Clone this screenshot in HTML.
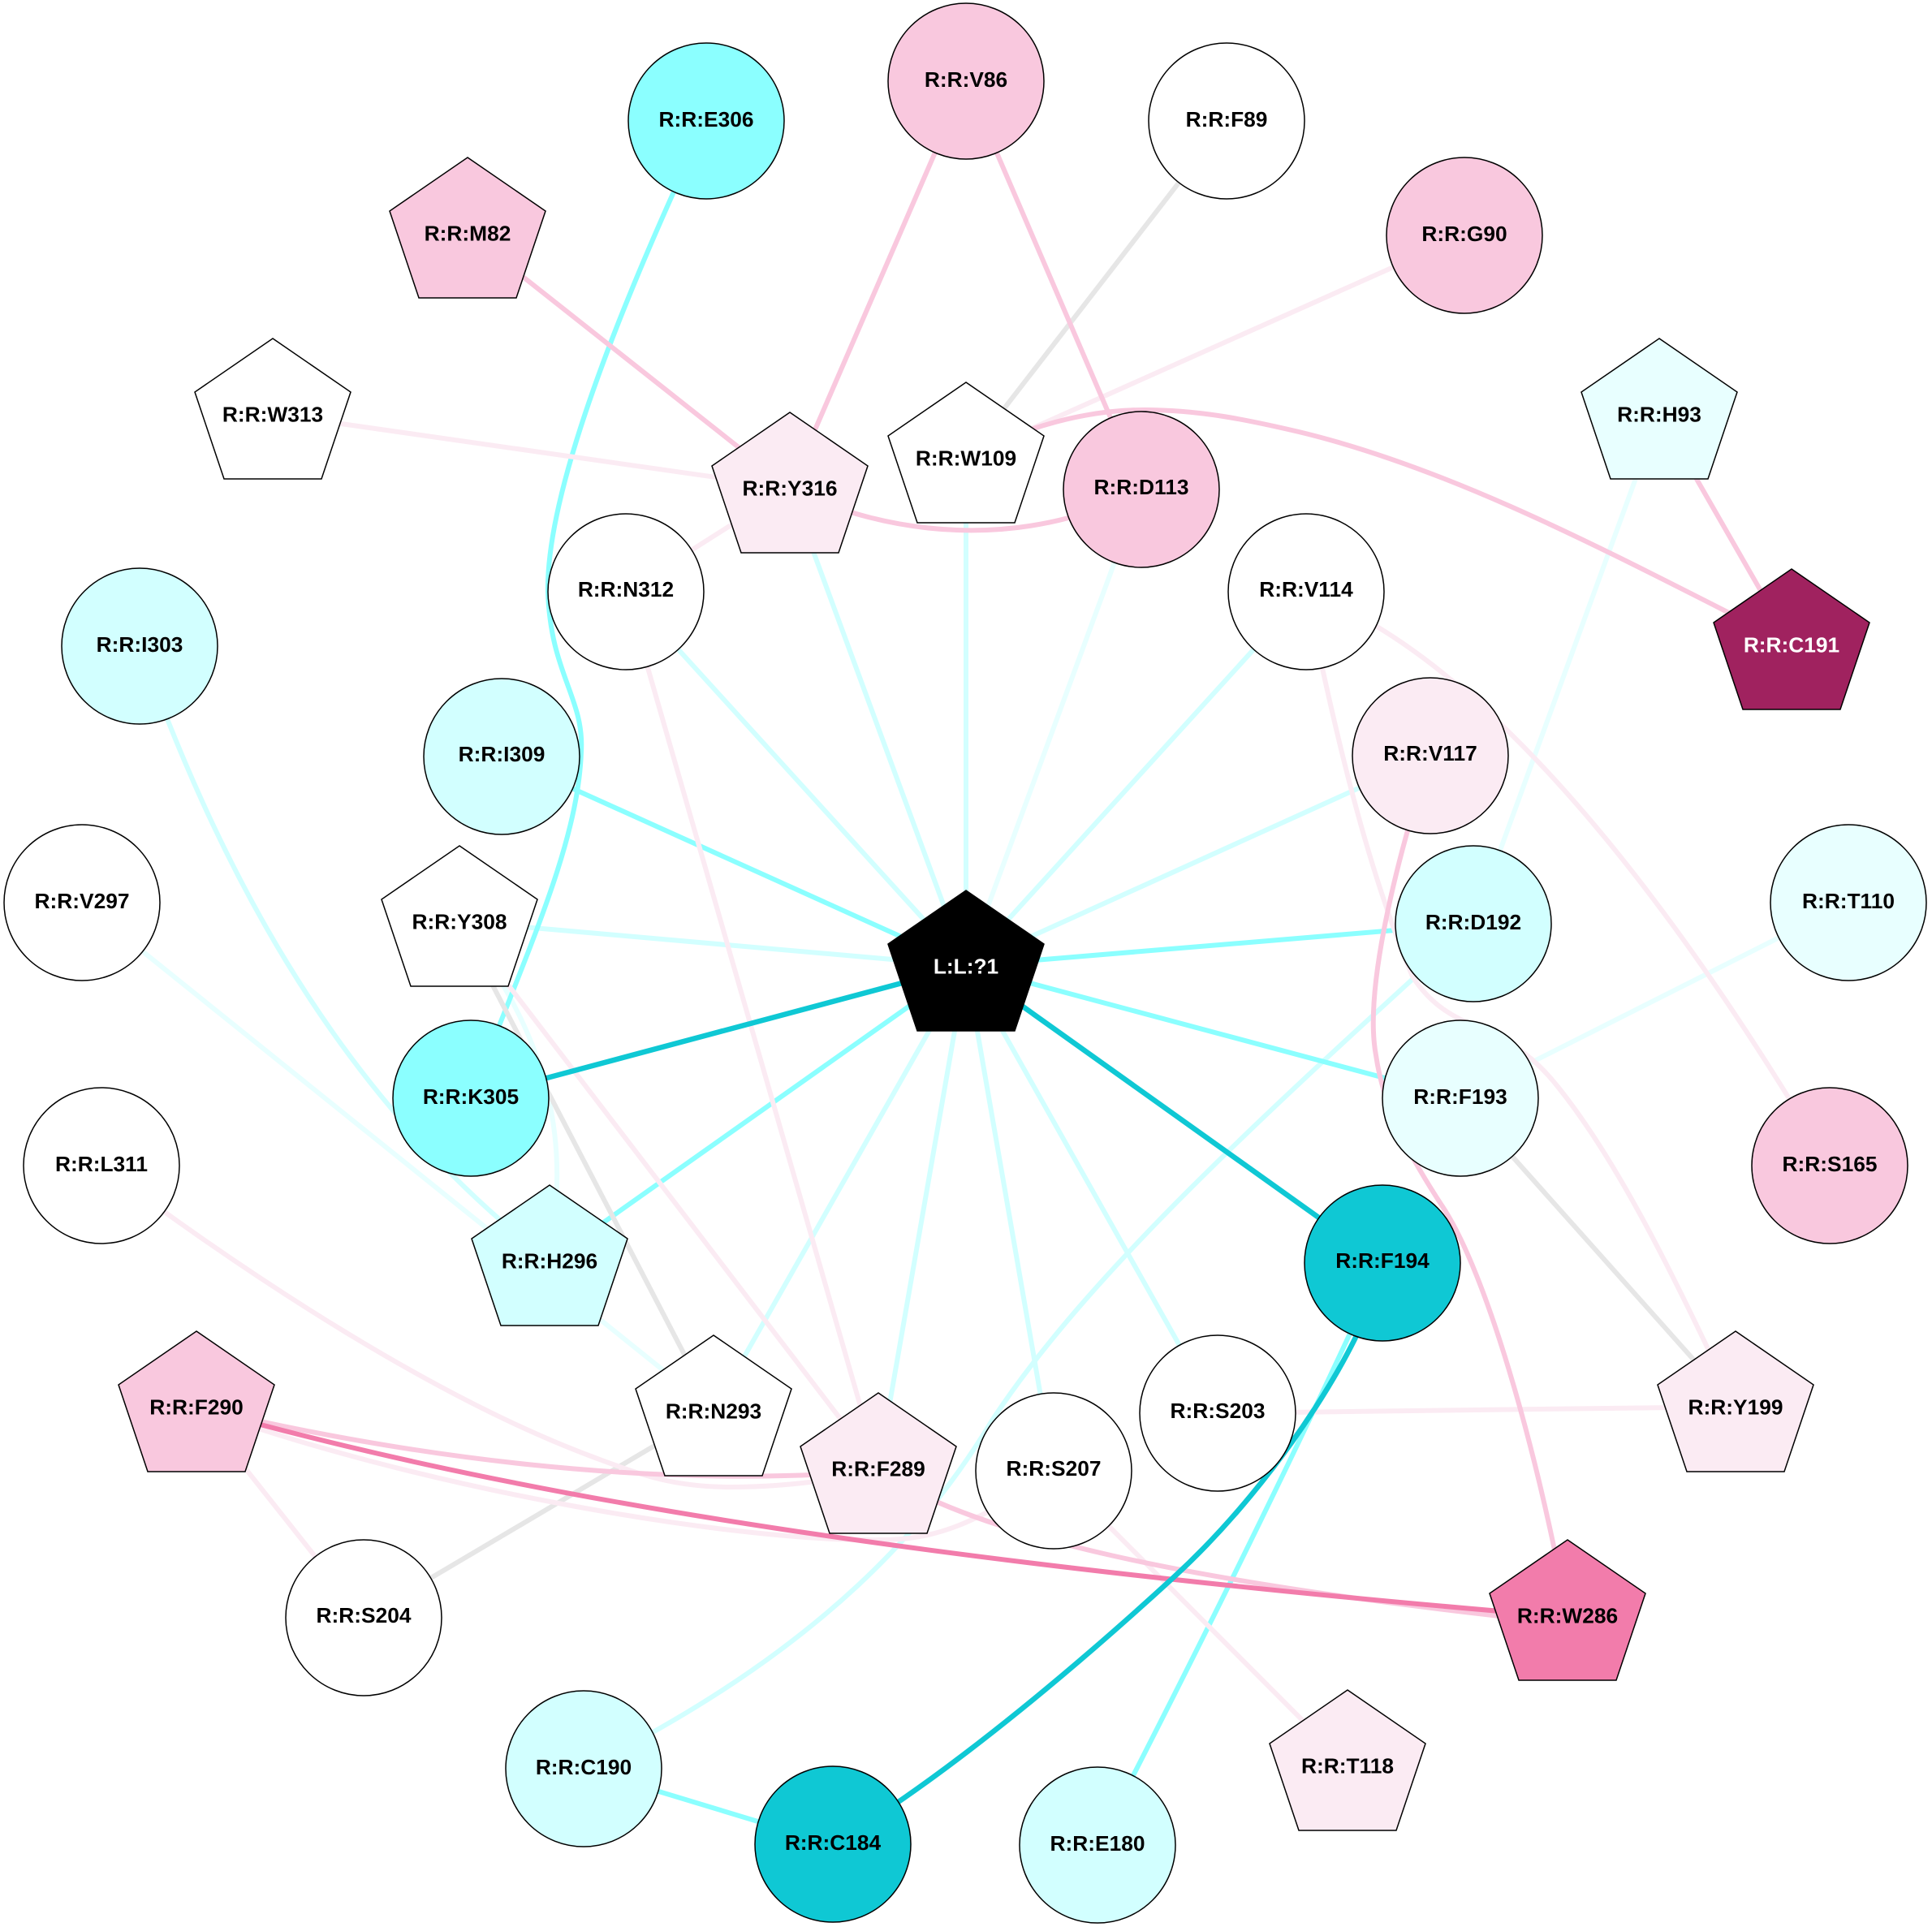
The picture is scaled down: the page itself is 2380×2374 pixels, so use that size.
<!DOCTYPE html>
<html><head><meta charset="utf-8"><style>
html,body{margin:0;padding:0;background:#fff}
svg{display:block}
text{font-family:"Liberation Sans",sans-serif;font-weight:700;font-size:26.3px;text-anchor:middle;fill:#000}
.e path,.e line{fill:none;stroke-width:6}
circle,polygon{stroke:#000;stroke-width:1.5}
</style></head><body>
<svg width="2380" height="2374" viewBox="0 0 2380 2374" xmlns="http://www.w3.org/2000/svg">
<defs><polygon id="p" points="0,-93 96,-27 60,80 -60,80 -96,-27"/></defs>
<rect width="2380" height="2374" fill="#fff"/>
<g class="e">
<g stroke="#e8ffff">
<line x1="1190" y1="1190" x2="1406" y2="603"/>
<line x1="101" y1="1112" x2="879" y2="1738"/>
<line x1="2044" y1="510" x2="1815" y2="1138"/>
<line x1="2277" y1="1112" x2="1799" y2="1353"/>
<path d="M566 1135C640 1230 695 1340 685 1480L677 1553"/>
</g>
<g stroke="#d2ffff">
<line x1="1190" y1="1190" x2="973" y2="601"/>
<line x1="1190" y1="1190" x2="1190" y2="564"/>
<line x1="1190" y1="1190" x2="771" y2="729"/>
<line x1="1190" y1="1190" x2="1609" y2="729"/>
<line x1="1190" y1="1190" x2="1762" y2="931"/>
<line x1="1190" y1="1190" x2="566" y2="1135"/>
<line x1="1190" y1="1190" x2="879" y2="1738"/>
<line x1="1190" y1="1190" x2="1500" y2="1741"/>
<line x1="1190" y1="1190" x2="1298" y2="1812"/>
<line x1="1190" y1="1190" x2="1082" y2="1809"/>
<path d="M172 796C260 1040 400 1340 677 1553"/>
<path d="M1815 1138C1560 1370 1340 1570 1222 1750C1150 1870 1020 2030 719 2179"/>
</g>
<g stroke="#8bffff">
<line x1="1190" y1="1190" x2="618" y2="932"/>
<line x1="1190" y1="1190" x2="1815" y2="1138"/>
<line x1="1190" y1="1190" x2="1799" y2="1353"/>
<line x1="1190" y1="1190" x2="677" y2="1553"/>
<line x1="719" y1="2179" x2="1026" y2="2272"/>
<path d="M870 149C790 320 672 590 675 729C678 830 720 860 716 926C712 1040 650 1170 580 1353"/>
<path d="M1703 1556Q1560 1870 1352 2273"/>
</g>
<g stroke="#e6e6e6">
<line x1="1511" y1="149" x2="1190" y2="564"/>
<line x1="566" y1="1135" x2="879" y2="1738"/>
<line x1="1799" y1="1353" x2="2138" y2="1733"/>
<line x1="448" y1="1993" x2="879" y2="1738"/>
</g>
<g stroke="#fbebf3">
<line x1="1804" y1="290" x2="1190" y2="564"/>
<line x1="336" y1="510" x2="973" y2="601"/>
<line x1="771" y1="729" x2="973" y2="601"/>
<line x1="771" y1="729" x2="1082" y2="1809"/>
<line x1="566" y1="1135" x2="1082" y2="1809"/>
<line x1="242" y1="1733" x2="448" y2="1993"/>
<line x1="1500" y1="1741" x2="2138" y2="1733"/>
<line x1="1298" y1="1812" x2="1660" y2="2175"/>
<path d="M1609 729C1800 800 2020 1040 2254 1436"/>
<path d="M1609 729C1640 880 1680 1060 1740 1203C1790 1280 1850 1250 1920 1340C2000 1440 2070 1590 2138 1733"/>
<path d="M241 1733C500 1830 900 1900 1084 1897C1150 1897 1200 1880 1298 1812"/>
<path d="M125 1436C310 1575 540 1725 736 1797C790 1817 830 1832 900 1832C960 1832 1020 1825 1082 1812"/>
</g>
<g stroke="#f9c8de">
<line x1="576" y1="287" x2="973" y2="601"/>
<line x1="1190" y1="100" x2="973" y2="601"/>
<line x1="1190" y1="100" x2="1406" y2="603"/>
<line x1="2044" y1="510" x2="2207" y2="794"/>
<path d="M973 601C1090 660 1260 680 1406 603"/>
<path d="M1190 565C1260 525 1340 505 1410 505C1480 505 1540 518 1600 532C1800 580 2000 690 2207 794"/>
<path d="M1762 931C1720 1060 1680 1220 1695 1300C1705 1370 1740 1430 1780 1491C1830 1570 1890 1770 1931 1990"/>
<path d="M241 1733C500 1795 800 1835 1082 1812"/>
<path d="M1082 1812C1200 1890 1450 1950 1931 2000"/>
</g>
<g stroke="#f27cab"><path d="M241 1733C580 1830 1060 1920 1931 1992"/></g>
<g stroke="#0fc8d4">
<line x1="1190" y1="1190" x2="580" y2="1353" style="stroke-width:6.5"/>
<line x1="1190" y1="1190" x2="1703" y2="1556" style="stroke-width:6.5"/>
<path d="M1703 1556C1690 1640 1580 1820 1446 1943C1350 2031 1180 2180 1026 2272" style="stroke-width:6.5"/>
</g>
</g>

<g><circle cx="870" cy="149" r="96" fill="#8bffff"/><text x="870" y="156">R:R:E306</text></g>
<g><circle cx="1190" cy="100" r="96" fill="#f9c8de"/><text x="1190" y="107">R:R:V86</text></g>
<g><circle cx="1511" cy="149" r="96" fill="#fff"/><text x="1511" y="156">R:R:F89</text></g>
<g transform="translate(576,287)"><use href="#p" fill="#f9c8de"/><text y="9.5">R:R:M82</text></g>
<g><circle cx="1804" cy="290" r="96" fill="#f9c8de"/><text x="1804" y="297">R:R:G90</text></g>
<g transform="translate(336,510)"><use href="#p" fill="#fff"/><text y="9.5">R:R:W313</text></g>
<g transform="translate(2044,510)"><use href="#p" fill="#e8ffff"/><text y="9.5">R:R:H93</text></g>
<g transform="translate(973,601)"><use href="#p" fill="#fbebf3"/><text y="9.5">R:R:Y316</text></g>
<g transform="translate(1190,564)"><use href="#p" fill="#fff"/><text y="9.5">R:R:W109</text></g>
<g><circle cx="1406" cy="603" r="96" fill="#f9c8de"/><text x="1406" y="609">R:R:D113</text></g>
<g><circle cx="771" cy="729" r="96" fill="#fff"/><text x="771" y="735">R:R:N312</text></g>
<g><circle cx="1609" cy="729" r="96" fill="#fff"/><text x="1609" y="735">R:R:V114</text></g>
<g><circle cx="172" cy="796" r="96" fill="#d2ffff"/><text x="172" y="803">R:R:I303</text></g>
<g transform="translate(2207,794)"><use href="#p" fill="#a0225f"/><text y="9.5" style="fill:#fff">R:R:C191</text></g>
<g><circle cx="618" cy="932" r="96" fill="#d2ffff"/><text x="618" y="938">R:R:I309</text></g>
<g><circle cx="1762" cy="931" r="96" fill="#fbebf3"/><text x="1762" y="937">R:R:V117</text></g>
<g><circle cx="101" cy="1112" r="96" fill="#fff"/><text x="101" y="1119">R:R:V297</text></g>
<g><circle cx="2277" cy="1112" r="96" fill="#e8ffff"/><text x="2277" y="1119">R:R:T110</text></g>
<g transform="translate(566,1135)"><use href="#p" fill="#fff"/><text y="9.5">R:R:Y308</text></g>
<g><circle cx="1815" cy="1138" r="96" fill="#d2ffff"/><text x="1815" y="1145">R:R:D192</text></g>
<g transform="translate(1190,1190)"><use href="#p" fill="#000"/><text y="9.5" style="fill:#fff">L:L:?1</text></g>
<g><circle cx="580" cy="1353" r="96" fill="#8bffff"/><text x="580" y="1360">R:R:K305</text></g>
<g><circle cx="1799" cy="1353" r="96" fill="#e8ffff"/><text x="1799" y="1360">R:R:F193</text></g>
<g><circle cx="125" cy="1436" r="96" fill="#fff"/><text x="125" y="1443">R:R:L311</text></g>
<g><circle cx="2254" cy="1436" r="96" fill="#f9c8de"/><text x="2254" y="1443">R:R:S165</text></g>
<g transform="translate(677,1553)"><use href="#p" fill="#d2ffff"/><text y="9.5">R:R:H296</text></g>
<g><circle cx="1703" cy="1556" r="96" fill="#0fc8d4"/><text x="1703" y="1562">R:R:F194</text></g>
<g transform="translate(242,1733)"><use href="#p" fill="#f9c8de"/><text y="9.5">R:R:F290</text></g>
<g transform="translate(879,1738)"><use href="#p" fill="#fff"/><text y="9.5">R:R:N293</text></g>
<g><circle cx="1500" cy="1741" r="96" fill="#fff"/><text x="1500" y="1747">R:R:S203</text></g>
<g transform="translate(2138,1733)"><use href="#p" fill="#fbebf3"/><text y="9.5">R:R:Y199</text></g>
<g transform="translate(1082,1809)"><use href="#p" fill="#fbebf3"/><text y="9.5">R:R:F289</text></g>
<g><circle cx="1298" cy="1812" r="96" fill="#fff"/><text x="1298" y="1818">R:R:S207</text></g>
<g><circle cx="448" cy="1993" r="96" fill="#fff"/><text x="448" y="1999">R:R:S204</text></g>
<g transform="translate(1931,1990)"><use href="#p" fill="#f27cab"/><text y="9.5">R:R:W286</text></g>
<g><circle cx="719" cy="2179" r="96" fill="#d2ffff"/><text x="719" y="2186">R:R:C190</text></g>
<g transform="translate(1660,2175)"><use href="#p" fill="#fbebf3"/><text y="9.5">R:R:T118</text></g>
<g><circle cx="1026" cy="2272" r="96" fill="#0fc8d4"/><text x="1026" y="2279">R:R:C184</text></g>
<g><circle cx="1352" cy="2273" r="96" fill="#d2ffff"/><text x="1352" y="2280">R:R:E180</text></g>
</svg>
</body></html>
